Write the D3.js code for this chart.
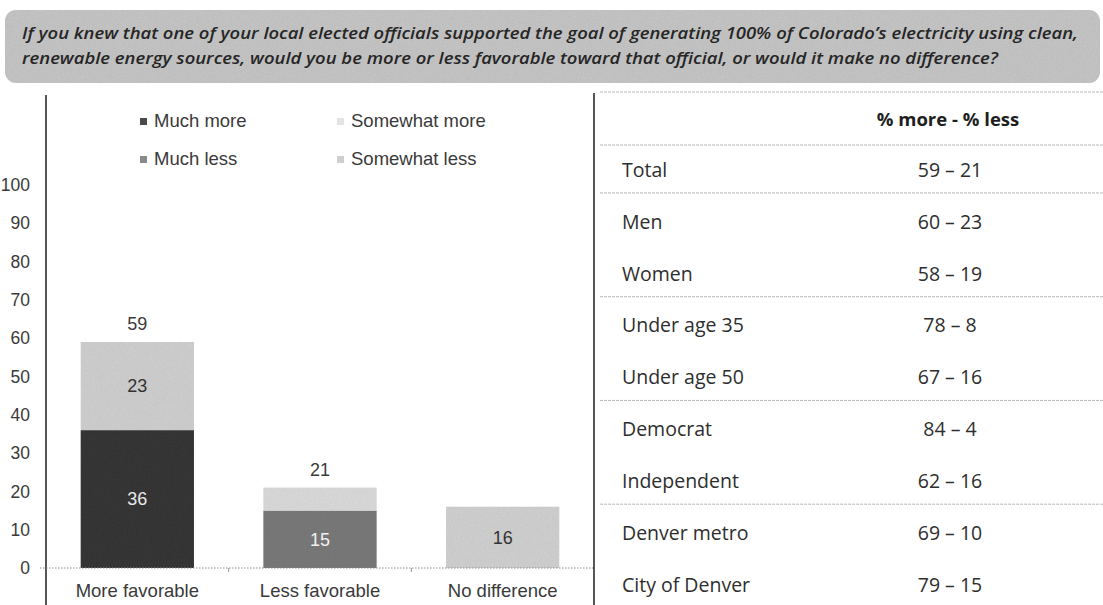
<!DOCTYPE html>
<html>
<head>
    <title>Colorado clean energy</title>
    <script src="https://cdn.jsdelivr.net/npm/d3@7"></script>
    <style>
        body {
            margin: 0;
            padding: 0;
            background-color: white;
        }

        .chart-text {
            font-family: "Liberation Sans", Arial, sans-serif;
            fill: #3a3a3a;
        }

        .table-text {
            font-family: "Open Sans", "Noto Sans", sans-serif;
            fill: #2e2e2e;
        }
    </style>
</head>
<body>
    <div id="chart"></div>

    <script>
        // question text, split the way it is printed
        const titleLines = [
            "If you knew that one of your local elected officials supported the goal of generating 100% of Colorado\u2019s electricity  using clean,",
            "renewable energy sources, would you be more or less favorable toward that official, or would it make no difference?"
        ];

        const categories = ["More favorable", "Less favorable", "No difference"];
        const seriesNames = ["Much more", "Somewhat more", "Much less", "Somewhat less", "No difference"];
        const muchMore = [36, 0, 0];
        const somewhatMore = [23, 0, 0];
        const muchLess = [0, 15, 0];
        const somewhatLess = [0, 6, 0];
        const noDifference = [0, 0, 16];
        const totals = [59, 21, null];
        const yTicks = [0, 10, 20, 30, 40, 50, 60, 70, 80, 90, 100];

        const tableHeader = "% more - % less";
        const groups = ["Total", "Men", "Women", "Under age 35", "Under age 50", "Democrat", "Independent", "Denver metro", "City of Denver"];
        const pctMore = [59, 60, 58, 78, 67, 84, 62, 69, 79];
        const pctLess = [21, 23, 19, 8, 16, 4, 16, 10, 15];
        const ruleAfter = ["Total", "Women", "Under age 50", "Independent"];

        const width = 1103, height = 605;
        const colors = {
            "Much more": "#383838",
            "Somewhat more": "#d3d3d3",
            "Much less": "#7b7b7b",
            "Somewhat less": "#dedede",
            "No difference": "#d4d4d4"
        };
        const legendColors = {
            "Much more": "#4a4a4a",
            "Somewhat more": "#e4e4e4",
            "Much less": "#8a8a8a",
            "Somewhat less": "#cfcfcf"
        };
        const valueColors = {
            "Much more": "#e8e8e8",
            "Somewhat more": "#333",
            "Much less": "#f0f0f0",
            "No difference": "#333"
        };

        const svg = d3.select("#chart")
            .append("svg")
            .attr("width", width)
            .attr("height", height);

        // grainy fill like the scanned original
        const defs = svg.append("defs");
        const grain = defs.append("filter").attr("id", "grain");
        grain.append("feTurbulence")
            .attr("type", "fractalNoise")
            .attr("baseFrequency", 1.2)
            .attr("numOctaves", 1)
            .attr("result", "noise");
        grain.append("feColorMatrix")
            .attr("in", "noise")
            .attr("type", "matrix")
            .attr("values", "0 0 0 0 0  0 0 0 0 0  0 0 0 0 0  0 0 0 0.18 0")
            .attr("result", "dots");
        grain.append("feComposite")
            .attr("in", "dots")
            .attr("in2", "SourceGraphic")
            .attr("operator", "in")
            .attr("result", "clipped");
        const merge = grain.append("feMerge");
        merge.append("feMergeNode").attr("in", "SourceGraphic");
        merge.append("feMergeNode").attr("in", "clipped");

        // ---- title banner ----
        svg.append("rect")
            .attr("x", 5)
            .attr("y", 10)
            .attr("width", 1095)
            .attr("height", 73)
            .attr("rx", 11)
            .attr("fill", "#c9c9c9")
            .attr("filter", "url(#grain)");

        const titleLengths = [1056, 976];
        svg.selectAll(".title-line")
            .data(titleLines)
            .enter()
            .append("text")
            .attr("class", "title-line")
            .attr("x", 22)
            .attr("y", (d, i) => 39 + i * 25)
            .attr("textLength", (d, i) => titleLengths[i])
            .attr("lengthAdjust", "spacingAndGlyphs")
            .style("font-family", "'Open Sans', 'Noto Sans', sans-serif")
            .style("font-style", "italic")
            .style("font-weight", 600)
            .style("font-size", "16px")
            .style("fill", "#262626")
            .text(d => d);

        // ---- stacked bar chart ----
        const x = d3.scaleBand()
            .domain(categories)
            .range([46, 594])
            .paddingInner(0.38)
            .paddingOuter(0.19);

        const y = d3.scaleLinear()
            .domain([0, 100])
            .range([568, 185]);

        const rows = categories.map((c, i) => ({
            category: c,
            "Much more": muchMore[i],
            "Somewhat more": somewhatMore[i],
            "Much less": muchLess[i],
            "Somewhat less": somewhatLess[i],
            "No difference": noDifference[i]
        }));

        const stacked = d3.stack().keys(seriesNames)(rows);

        const layers = svg.append("g")
            .selectAll("g")
            .data(stacked)
            .enter()
            .append("g")
            .attr("fill", d => colors[d.key]);

        layers.selectAll("rect")
            .data(d => d.filter(s => s[1] - s[0] > 0))
            .enter()
            .append("rect")
            .attr("x", d => x(d.data.category))
            .attr("y", d => y(d[1]))
            .attr("width", x.bandwidth())
            .attr("height", d => y(d[0]) - y(d[1]))
            .attr("filter", "url(#grain)");

        // segment values
        stacked.forEach(layer => {
            if (!valueColors[layer.key]) return;
            svg.append("g")
                .selectAll("text")
                .data(layer.filter(s => s[1] - s[0] > 0))
                .enter()
                .append("text")
                .attr("class", "chart-text")
                .attr("x", d => x(d.data.category) + x.bandwidth() / 2)
                .attr("y", d => y((d[0] + d[1]) / 2))
                .attr("dy", "0.35em")
                .attr("text-anchor", "middle")
                .style("font-size", "18px")
                .style("fill", valueColors[layer.key])
                .text(d => d[1] - d[0]);
        });

        // totals above bars
        svg.append("g")
            .selectAll("text")
            .data(categories.filter((c, i) => totals[i] != null))
            .enter()
            .append("text")
            .attr("class", "chart-text")
            .attr("x", d => x(d) + x.bandwidth() / 2)
            .attr("y", d => y(totals[categories.indexOf(d)]) - 18)
            .attr("dy", "0.35em")
            .attr("text-anchor", "middle")
            .style("font-size", "18px")
            .text(d => totals[categories.indexOf(d)]);

        // y axis
        const yAxis = svg.append("g")
            .attr("transform", "translate(46,0)")
            .call(d3.axisLeft(y).tickValues(yTicks).tickSize(0).tickPadding(16));
        yAxis.select(".domain").remove();
        yAxis.selectAll("text")
            .attr("class", "chart-text")
            .style("font-size", "17.5px")
            .style("font-family", "'Liberation Sans', Arial, sans-serif")
            .style("fill", "#3a3a3a");

        svg.append("line")
            .attr("x1", 46).attr("x2", 46)
            .attr("y1", 95).attr("y2", height)
            .style("stroke", "#2b2b2b")
            .style("stroke-width", 1.6);

        // x axis: dotted baseline with ticks between categories
        svg.append("line")
            .attr("x1", 40).attr("x2", 594)
            .attr("y1", y(0)).attr("y2", y(0))
            .style("stroke", "#8a8a8a")
            .style("stroke-width", 1)
            .style("stroke-dasharray", "1.5,1.5");

        svg.append("g")
            .selectAll("line")
            .data(categories.slice(1))
            .enter()
            .append("line")
            .attr("x1", d => x(d) - x.step() * x.paddingInner() / 2)
            .attr("x2", d => x(d) - x.step() * x.paddingInner() / 2)
            .attr("y1", y(0))
            .attr("y2", y(0) + 4)
            .style("stroke", "#999");

        const xAxis = svg.append("g")
            .attr("transform", `translate(0,${y(0)})`)
            .call(d3.axisBottom(x).tickSize(0).tickPadding(16));
        xAxis.select(".domain").remove();
        xAxis.selectAll("text")
            .attr("class", "chart-text")
            .style("font-size", "18.5px")
            .style("font-family", "'Liberation Sans', Arial, sans-serif")
            .style("fill", "#3a3a3a");

        // legend
        const legendPos = {
            "Much more": [140, 121],
            "Somewhat more": [337, 121],
            "Much less": [140, 159],
            "Somewhat less": [337, 159]
        };
        const legend = svg.append("g")
            .selectAll("g")
            .data(Object.keys(legendColors))
            .enter()
            .append("g")
            .attr("transform", d => `translate(${legendPos[d][0]},${legendPos[d][1]})`);
        legend.append("rect")
            .attr("x", 0)
            .attr("y", -3)
            .attr("width", 7)
            .attr("height", 7)
            .attr("fill", d => legendColors[d]);
        legend.append("text")
            .attr("class", "chart-text")
            .attr("x", 14)
            .attr("dy", "0.35em")
            .style("font-size", "18.5px")
            .text(d => d);

        // divider
        svg.append("line")
            .attr("x1", 594).attr("x2", 594)
            .attr("y1", 93).attr("y2", height)
            .style("stroke", "#2b2b2b")
            .style("stroke-width", 1.6);

        // ---- table ----
        const rowY = d3.scalePoint()
            .domain(groups)
            .range([170, 585]);

        const rule = (yy) => svg.append("line")
            .attr("x1", 600).attr("x2", width)
            .attr("y1", yy).attr("y2", yy)
            .style("stroke", "#b8b8b8")
            .style("stroke-width", 1)
            .style("stroke-dasharray", "3,1");

        rule(92);
        rule(145);
        ruleAfter.forEach(g => rule(rowY(g) + rowY.step() / 2 - 3));

        svg.append("text")
            .attr("class", "table-text")
            .attr("x", 948)
            .attr("y", 120)
            .attr("dy", "0.35em")
            .attr("text-anchor", "middle")
            .style("font-size", "18.5px")
            .style("font-weight", "bold")
            .style("fill", "#1e1e1e")
            .text(tableHeader);

        svg.append("g")
            .selectAll("text")
            .data(groups)
            .enter()
            .append("text")
            .attr("class", "table-text")
            .attr("x", 622)
            .attr("y", d => rowY(d))
            .attr("dy", "0.35em")
            .style("font-size", "19.5px")
            .text(d => d);

        svg.append("g")
            .selectAll("text")
            .data(groups)
            .enter()
            .append("text")
            .attr("class", "table-text")
            .attr("x", 950)
            .attr("y", d => rowY(d))
            .attr("dy", "0.35em")
            .attr("text-anchor", "middle")
            .style("font-size", "19.5px")
            .text((d, i) => `${pctMore[i]} \u2013 ${pctLess[i]}`);
    </script>
</body>
</html>
